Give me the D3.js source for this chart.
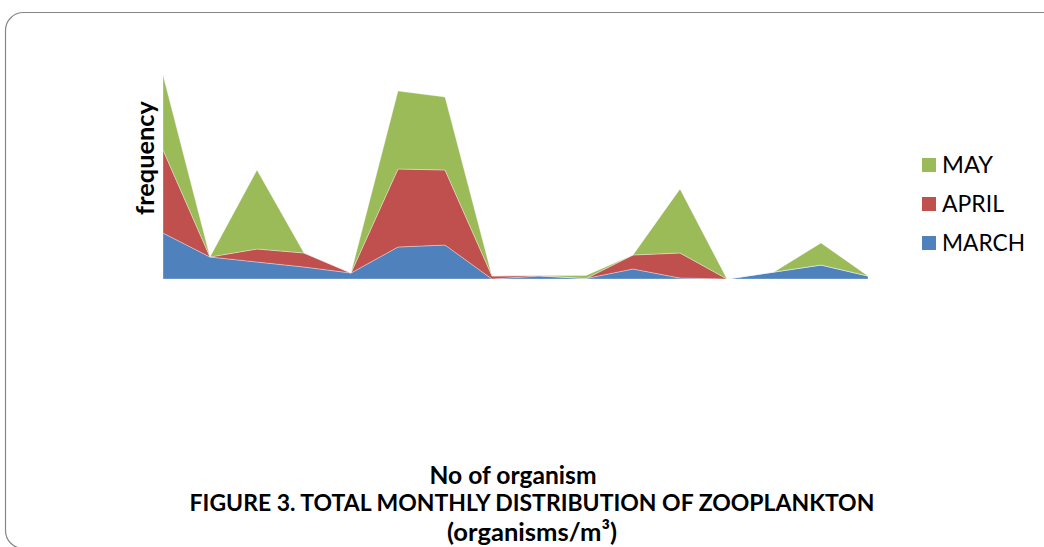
<!DOCTYPE html>
<html>
<head>
<meta charset="utf-8">
<script src="https://cdn.jsdelivr.net/npm/d3@7"></script>
<style>
  html, body { margin: 0; padding: 0; background: #fff; }
  svg { display: block; }
  text { font-family: Lato, "Open Sans", "Liberation Sans", sans-serif; fill: #000; }
</style>
</head>
<body>
<svg id="chart" width="1044" height="547"></svg>
<script>
// Sampling stations along the x axis (unlabelled in the figure)
const stations = ["1","2","3","4","5","6","7","8","9","10","11","12","13","14","15","16"];

// Zooplankton counts per station for each month
const march = [46, 22, 17, 12, 6, 32, 34, 0, 3, 0.5, 10, 1, 0, 7, 14, 3];
const april = [83, 0, 13, 14, 0, 78, 75, 3, 0.5, 0, 14, 25, 0, 0, 0, 0];
const may   = [75, 0, 79, 0, 0, 78, 73, 0, 0, 3, 0, 64, 0, 0, 22, 0];

const seriesNames = ["MARCH", "APRIL", "MAY"];
const seriesColors = ["#4F81BD", "#C0504D", "#9BBB59"];

const svg = d3.select("#chart");

// Rounded chart frame
svg.append("rect")
  .attr("x", 5.5).attr("y", 12.5)
  .attr("width", 1060).attr("height", 536)
  .attr("rx", 18).attr("ry", 18)
  .attr("fill", "none")
  .attr("stroke", "#868686")
  .attr("stroke-width", 1.2);

const rows = stations.map((s, i) => ({ station: s, MARCH: march[i], APRIL: april[i], MAY: may[i] }));
const stacked = d3.stack().keys(seriesNames)(rows);

const x = d3.scalePoint().domain(stations).range([163, 868]);
const y = d3.scaleLinear().domain([0, 204]).range([279, 75]);

const area = d3.area()
  .x(d => x(d.data.station))
  .y0(d => y(d[0]))
  .y1(d => y(d[1]));

svg.append("g").selectAll("path")
  .data(stacked)
  .join("path")
  .attr("d", area)
  .attr("fill", (d, i) => seriesColors[i])
  .attr("stroke", "rgba(255,255,255,0.55)")
  .attr("stroke-width", 0.6)
  .attr("stroke-linejoin", "round");

// Scale a text's font size so that it spans the given width
function fitText(node, width) {
  const w = node.getComputedTextLength();
  const fs = parseFloat(node.getAttribute("font-size"));
  node.setAttribute("font-size", (fs * width / w).toFixed(2));
}

// Y-axis title
const yTitle = svg.append("text")
  .attr("transform", "translate(154,158) rotate(-90)")
  .attr("text-anchor", "middle")
  .attr("font-weight", "bold")
  .attr("font-size", 20)
  .text("frequency");
fitText(yTitle.node(), 114);

// Legend, top entry is the top layer
const legendItems = seriesNames.map((n, i) => ({ name: n, color: seriesColors[i] })).reverse();
const legendWidths = { MAY: 51, APRIL: 62, MARCH: 83 };
const legend = svg.append("g");
legendItems.forEach((d, i) => {
  const cy = 165 + i * 39;
  legend.append("rect")
    .attr("x", 922).attr("y", cy - 7)
    .attr("width", 14).attr("height", 14)
    .attr("fill", d.color);
  const t = legend.append("text")
    .attr("x", 942).attr("y", cy + 8)
    .attr("font-size", 20)
    .text(d.name);
  fitText(t.node(), legendWidths[d.name]);
});

// Bottom titles, fitted to their widths
const t1 = svg.append("text")
  .attr("x", 513).attr("y", 484)
  .attr("text-anchor", "middle")
  .attr("font-weight", "bold").attr("font-size", 20)
  .text("No of organism");
fitText(t1.node(), 167);

const t2 = svg.append("text")
  .attr("x", 532).attr("y", 511)
  .attr("text-anchor", "middle")
  .attr("font-weight", "bold").attr("font-size", 20)
  .text("FIGURE 3. TOTAL MONTHLY DISTRIBUTION OF ZOOPLANKTON");
fitText(t2.node(), 685);

const t3 = svg.append("text")
  .attr("x", 532).attr("y", 541)
  .attr("text-anchor", "middle")
  .attr("font-weight", "bold").attr("font-size", 20)
  .text("(organisms/m³)");
fitText(t3.node(), 170);
</script>
</body>
</html>
